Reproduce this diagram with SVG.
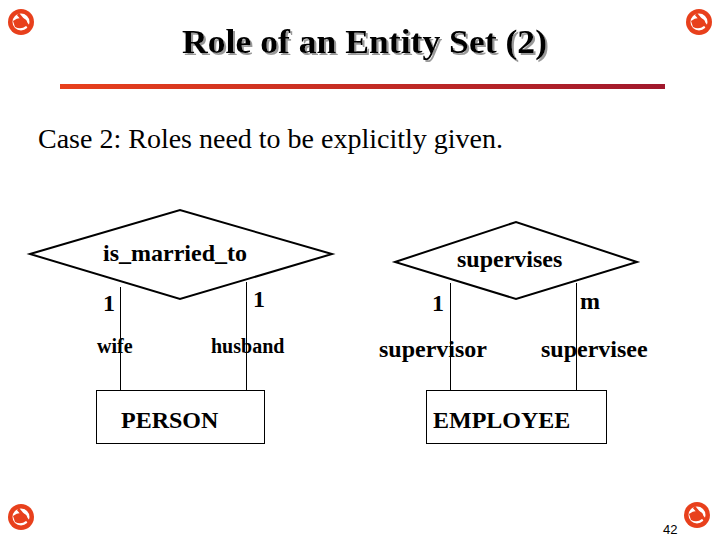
<svg xmlns="http://www.w3.org/2000/svg" width="720" height="540" viewBox="0 0 720 540">
<defs>
<linearGradient id="bar" x1="0" y1="0" x2="1" y2="0">
<stop offset="0" stop-color="#e8401c"/>
<stop offset="1" stop-color="#a0182c"/>
</linearGradient>
<filter id="shadow" x="-5%" y="-20%" width="110%" height="140%">
<feDropShadow dx="2" dy="2" stdDeviation="0.5" flood-color="#999" flood-opacity="1"/>
</filter>
<g id="icon">
<circle cx="0" cy="0" r="13" fill="#e8401c"/>
<circle cx="0" cy="0" r="8.5" fill="#ffffff"/>
<path d="M-8,-1 Q-2,-6 4,-3 Q8,0 5,4 Q0,8 -6,5 Z" fill="#e8401c"/>
<path d="M-3,-8 L8,5" stroke="#e8401c" stroke-width="3"/>
</g>
</defs>
<style>
.t{font-family:"Liberation Serif","Times New Roman",serif;fill:#000}
.b{font-weight:bold;font-size:24px}
.shape{fill:#fff;stroke:#000;stroke-width:2}
.ln{stroke:#000;stroke-width:1;fill:none}
</style>
<rect width="720" height="540" fill="#fff"/>
<use href="#icon" x="21" y="22"/>
<use href="#icon" x="699" y="22"/>
<use href="#icon" x="21" y="517"/>
<use href="#icon" x="697" y="515"/>
<text class="t" x="182" y="53" font-size="34" font-weight="bold" textLength="365" lengthAdjust="spacingAndGlyphs" filter="url(#shadow)">Role of an Entity Set (2)</text>
<rect x="60" y="84" width="605" height="5" fill="url(#bar)"/>
<text class="t" x="38" y="148" font-size="28">Case 2: Roles need to be explicitly given.</text>
<g id="connectors">
<line class="ln" x1="120.5" y1="287" x2="120.5" y2="390"/>
<line class="ln" x1="246.5" y1="282" x2="246.5" y2="390"/>
<line class="ln" x1="450.5" y1="283" x2="450.5" y2="390"/>
<line class="ln" x1="576.5" y1="283" x2="576.5" y2="390"/>
</g>
<g id="is_married_to">
<polygon class="shape" points="30,254 180,210 332,254 180,299"/>
<text class="t b" x="103" y="261">is_married_to</text>
</g>
<g id="supervises">
<polygon class="shape" points="395,262 516,222 637,262 516,299"/>
<text class="t b" x="457" y="267">supervises</text>
</g>
<g id="PERSON">
<rect x="96.5" y="390.5" width="168" height="53" fill="#fff" stroke="#000" stroke-width="1"/>
<text class="t b" x="121" y="428">PERSON</text>
</g>
<g id="EMPLOYEE">
<rect x="426.5" y="390.5" width="180" height="53" fill="#fff" stroke="#000" stroke-width="1"/>
<text class="t b" x="433" y="428">EMPLOYEE</text>
</g>
<g id="labels">
<text class="t b" x="103" y="311">1</text>
<text class="t b" x="253" y="307">1</text>
<text class="t b" x="432" y="311">1</text>
<text class="t b" x="580" y="309">m</text>
<text class="t" x="97" y="353" font-size="20" font-weight="bold">wife</text>
<text class="t" x="211" y="353" font-size="20" font-weight="bold">husband</text>
<text class="t b" x="379" y="357">supervisor</text>
<text class="t b" x="541" y="357">supervisee</text>
</g>
<text x="663" y="534" font-family="Liberation Sans, Arial, sans-serif" font-size="13" fill="#000">42</text>
</svg>
